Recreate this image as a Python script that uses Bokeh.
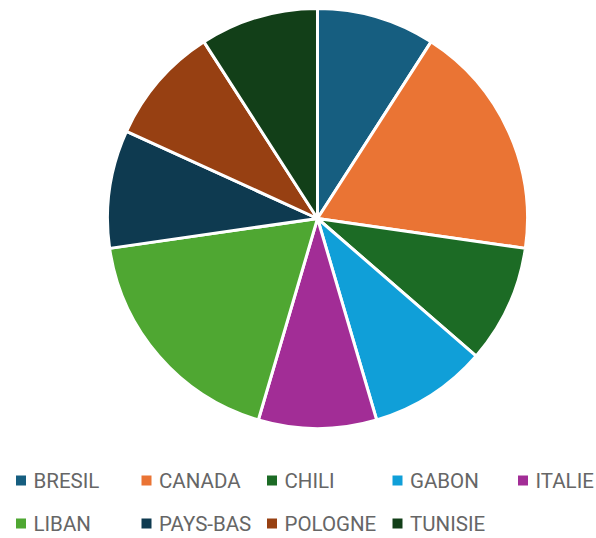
from bokeh.plotting import figure
from bokeh.models import ColumnDataSource, Range1d
from bokeh.core.properties import value
from bokeh.embed import file_html
from bokeh.resources import INLINE
import math

countries = ["BRESIL", "CANADA", "CHILI", "GABON", "ITALIE", "LIBAN", "PAYS-BAS", "POLOGNE", "TUNISIE"]
counts = [1, 2, 1, 1, 1, 2, 1, 1, 1]
colors = ["#165e80", "#ea7434", "#1c6b25", "#109fd8", "#a22d96", "#4fa732", "#0e3a50", "#974012", "#123f18"]

W, H = 596, 538
p = figure(width=W, height=H, output_backend="svg", toolbar_location=None,
           x_range=Range1d(0, W), y_range=Range1d(0, H), min_border=0,
           outline_line_color=None)
p.axis.visible = False
p.grid.visible = False

total = sum(counts)
cx, cy, r = 317, 320, 210
starts, ends = [], []
cum = 0
for c in counts:
    a0 = math.pi / 2 - 2 * math.pi * (cum + c) / total
    a1 = math.pi / 2 - 2 * math.pi * cum / total
    starts.append(a0)
    ends.append(a1)
    cum += c

src = ColumnDataSource(dict(start=starts, end=ends, color=colors, name=countries))
p.wedge(x=cx, y=cy, radius=r, start_angle="start", end_angle="end",
        fill_color="color", line_color="white", line_width=3, source=src)

# legend
lx, ly = [], []
for i, name in enumerate(countries):
    col = i % 5
    row = i // 5
    lx.append(20.5 + col * 125.5)
    ly.append(58 - row * 43)
lsrc = ColumnDataSource(dict(x=lx, y=ly, tx=[v + 12.5 for v in lx], name=countries, color=colors))
p.scatter(x="x", y="y", marker="square", size=10, fill_color="color", line_color=None, source=lsrc)
p.text(x="tx", y="y", text="name", text_font=value("Roboto"), text_font_size="20.5px",
       text_color="#666666", text_baseline="middle", text_align="left", source=lsrc)

open("out.html", "w").write(file_html(p, INLINE))
